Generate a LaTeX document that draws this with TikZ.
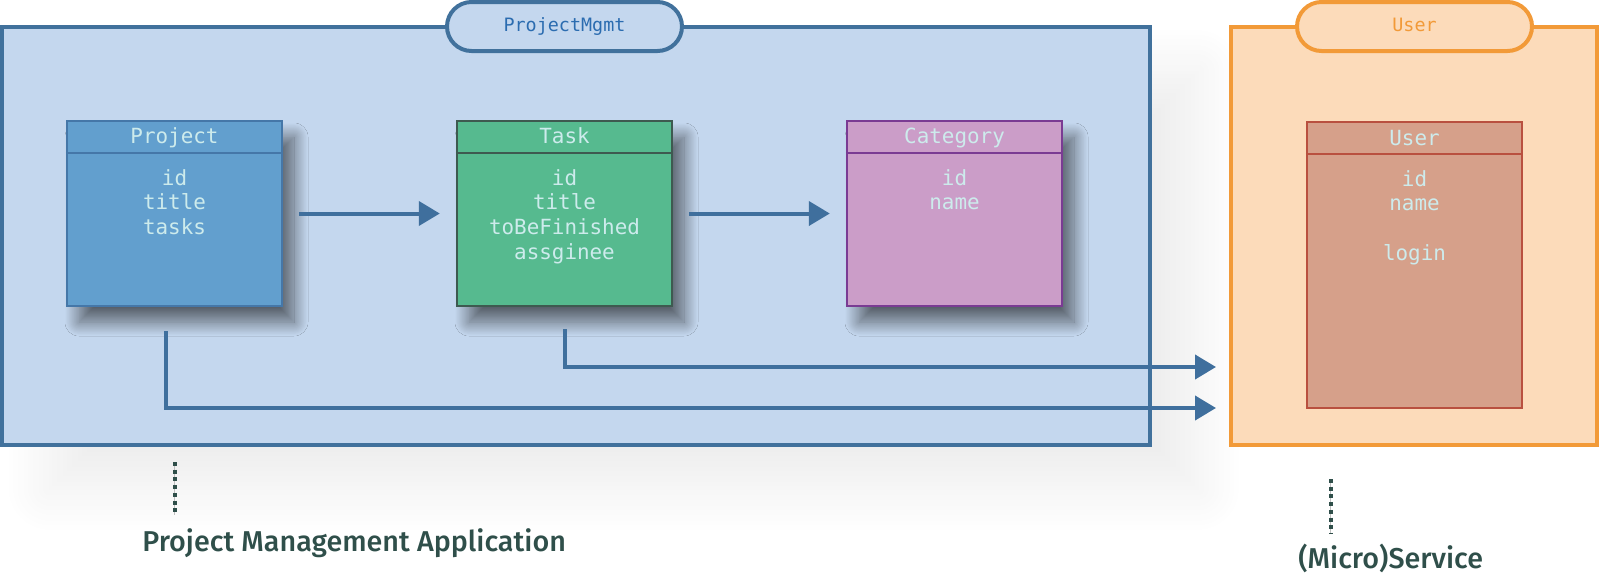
\documentclass[tikz,border=0pt]{standalone}
\usepackage{fontspec}
\setmainfont{Fira Sans}
\newfontfamily\monofont{DejaVu Sans Mono}
\newfontfamily\labelfont{Fira Sans Medium}
\usetikzlibrary{arrows.meta,shadows.blur}
\definecolor{contBlueFill}{HTML}{C4D7EE}
\definecolor{contBlueDraw}{HTML}{41719C}
\definecolor{pillBlueText}{HTML}{2B6CB0}
\definecolor{orangeFill}{HTML}{FCDBBA}
\definecolor{orangeDraw}{HTML}{F29A38}
\definecolor{projFill}{HTML}{629FCE}
\definecolor{projDraw}{HTML}{4577A8}
\definecolor{taskFill}{HTML}{56BA8F}
\definecolor{taskDraw}{HTML}{3E5A50}
\definecolor{catFill}{HTML}{CB9DC8}
\definecolor{catDraw}{HTML}{7A3B93}
\definecolor{userFill}{HTML}{D6A08A}
\definecolor{userDraw}{HTML}{B9503F}
\definecolor{textLight}{HTML}{CDEBEC}
\definecolor{labelCol}{HTML}{2F4F4A}
\definecolor{arrowBlue}{HTML}{3F6F9D}
\tikzset{
  container/.style 2 args={rectangle, fill=#1, draw=#2, line width=2pt, inner sep=0pt, minimum height=209pt},
  pill/.style 2 args={rectangle, rounded corners=12.25pt, fill=#1, draw=#2, line width=2pt, inner sep=0pt,
    minimum width=117.5pt, minimum height=24.5pt},
  pilltxt/.style={font=\monofont\fontsize{9.2pt}{11pt}\selectfont, inner sep=0pt, anchor=base},
  entity/.style 2 args={rectangle, fill=#1, draw=#2, line width=1.2pt, inner sep=0pt,
    minimum width=107.5pt, minimum height=92.5pt,
    blur shadow={shadow xshift=6pt, shadow yshift=-8pt, shadow blur radius=7pt,
      shadow blur steps=30, shadow opacity=55}},
  divider/.style={line width=1.2pt},
  fieldtxt/.style={font=\monofont\fontsize{10.45pt}{12.5pt}\selectfont, text=textLight, inner sep=0pt, anchor=base},
  conn/.style={draw=arrowBlue, line width=2pt, -{Triangle[length=10.5pt,width=12pt]}},
  dotline/.style={draw=labelCol, line width=2pt, dash pattern=on 2pt off 1.85pt},
  thinline/.style={draw=gray!50, line width=0.4pt},
  labeltxt/.style={font=\labelfont\fontsize{14.35pt}{17pt}\selectfont, text=labelCol, inner sep=0pt}
}
\begin{document}
\begin{tikzpicture}[x=0.5pt,y=-0.5pt]
\useasboundingbox (0,0) rectangle (1600,580);
% containers
\node[container={contBlueFill}{contBlueDraw}, minimum width=574.25pt,
  blur shadow={shadow xshift=24pt, shadow yshift=-22pt, shadow blur radius=22pt,
    shadow blur steps=30, shadow opacity=7}] (app) at (575.75,236) {};
\node[container={orangeFill}{orangeDraw}, minimum width=183pt] (svc) at (1414,236) {};
% pills
\node[pill={contBlueFill}{contBlueDraw}] (pillPM) at (564.5,26.5) {};
\node[pilltxt, text=pillBlueText] (pillPMtxt) at (564.5,31.5) {ProjectMgmt};
\node[pill={orangeFill}{orangeDraw}] (pillU) at (1414.5,26.5) {};
\node[pilltxt, text=orangeDraw] (pillUtxt) at (1414.5,31.5) {User};
% entities
\node[entity={projFill}{projDraw}] (project) at (174.5,213.5) {};
\node[entity={taskFill}{taskDraw}] (task) at (564.5,213.5) {};
\node[entity={catFill}{catDraw}] (category) at (954.5,213.5) {};
\node[rectangle, fill=userFill, draw=userDraw, line width=1.2pt, inner sep=0pt,
  minimum width=107.5pt, minimum height=143pt] (user) at (1414.5,265) {};
\draw[divider, projDraw] ([yshift=-16.5pt]project.north west) -- ([yshift=-16.5pt]project.north east);
\draw[divider, taskDraw] ([yshift=-16.5pt]task.north west) -- ([yshift=-16.5pt]task.north east);
\draw[divider, catDraw] ([yshift=-16.5pt]category.north west) -- ([yshift=-16.5pt]category.north east);
\draw[divider, userDraw] ([yshift=-16.5pt]user.north west) -- ([yshift=-16.5pt]user.north east);
% texts
\node[fieldtxt] (projectH) at (174.5,143) {Project};
\node[fieldtxt] (projectF1) at (174.5,185) {id};
\node[fieldtxt] (projectF2) at (174.5,209.7) {title};
\node[fieldtxt] (projectF3) at (174.5,234.4) {tasks};
\node[fieldtxt] (taskH) at (564.5,143) {Task};
\node[fieldtxt] (taskF1) at (564.5,185) {id};
\node[fieldtxt] (taskF2) at (564.5,209.7) {title};
\node[fieldtxt] (taskF3) at (564.5,234.4) {toBeFinished};
\node[fieldtxt] (taskF4) at (564.5,259.1) {assginee};
\node[fieldtxt] (categoryH) at (954.5,143) {Category};
\node[fieldtxt] (categoryF1) at (954.5,185) {id};
\node[fieldtxt] (categoryF2) at (954.5,209.7) {name};
\node[fieldtxt] (userH) at (1414.5,145) {User};
\node[fieldtxt] (userF1) at (1414.5,186) {id};
\node[fieldtxt] (userF2) at (1414.5,210.7) {name};
\node[fieldtxt] (userF3) at (1414.5,260.1) {login};
% connectors
\coordinate (tipA) at (1216,367);
\coordinate (tipB) at (1216,408);
\draw[conn, shorten <=8pt, shorten >=8pt] (project.east) -- (task.west);
\draw[conn, shorten <=8pt, shorten >=8pt] (task.east) -- (category.west);
\draw[conn] ([yshift=-11pt]task.south) |- (tipA);
\draw[conn] ([xshift=-4.5pt,yshift=-12pt]project.south) |- (tipB);
% annotations
\coordinate (dA1) at (174.5,462);
\coordinate (dA2) at (174.5,515);
\coordinate (dB1) at (1330.5,479);
\coordinate (dB2) at (1330.5,533);
\draw[thinline] (dA1) -- (dA2);
\draw[thinline] (dB1) -- (dB2);
\draw[dotline] (dA1) -- (dA2);
\draw[dotline] (dB1) -- (dB2);
\node[labeltxt, anchor=base west] (lblApp) at (142,551) {Project Management Application};
\node[labeltxt, anchor=base west] (lblSvc) at (1298,568) {(Micro)Service};
\end{tikzpicture}
\end{document}
